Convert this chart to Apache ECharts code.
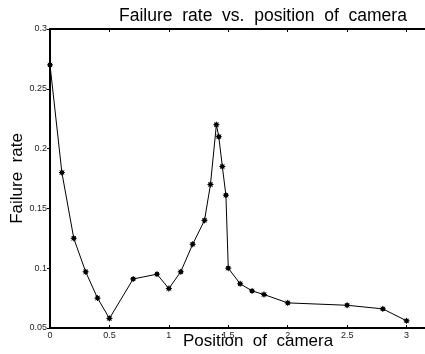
<!DOCTYPE html>
<html>
<head>
<meta charset="utf-8">
<script src="https://cdn.jsdelivr.net/npm/echarts@6/dist/echarts.min.js"></script>
<style>html,body{margin:0;padding:0;background:#fff;}#c{width:425px;height:354px;}</style>
</head>
<body>
<div id="c"></div>
<script>
const positions = [0, 0.1, 0.2, 0.3, 0.4, 0.5, 0.7, 0.9, 1.0, 1.1, 1.2, 1.3, 1.35, 1.4, 1.42, 1.45, 1.48, 1.5, 1.6, 1.7, 1.8, 2.0, 2.5, 2.8, 3.0];
const failureRates = [0.27, 0.18, 0.125, 0.097, 0.075, 0.058, 0.091, 0.095, 0.083, 0.097, 0.12, 0.14, 0.17, 0.22, 0.21, 0.185, 0.161, 0.1, 0.087, 0.081, 0.078, 0.071, 0.069, 0.066, 0.056];
const titleText = "Failure  rate  vs.  position  of  camera";
const xName = "Position  of  camera";
const yName = "Failure  rate";

const FONT = "Liberation Sans, Arial, Helvetica, sans-serif";
const chart = echarts.init(document.getElementById('c'), null, {renderer: 'canvas'});
const pts = positions.map((x, i) => [x, failureRates[i]]);
chart.setOption({
  animation: false,
  backgroundColor: '#fff',
  title: {
    text: titleText, left: 114, top: 2,
    textStyle: {fontFamily: FONT, fontSize: 17.5, fontWeight: 'normal', color: '#000'}
  },
  grid: {left: 50, top: 29, bottom: 26, right: -41, containLabel: false, outerBoundsMode: 'none'},
  xAxis: [{
    type: 'value', min: 0, max: 3.5, interval: 0.5, position: 'bottom',
    name: xName, nameLocation: 'middle', nameGap: 5, nameMoveOverlap: false,
    nameTextStyle: {fontFamily: FONT, fontSize: 17, color: '#000', verticalAlign: 'top'},
    axisLine: {show: true, lineStyle: {color: '#000', width: 2}},
    axisTick: {show: true, inside: true, length: 3, lineStyle: {color: '#000'}},
    axisLabel: {fontFamily: FONT, fontSize: 9, color: '#222', margin: 3,
      formatter: v => String(+v.toFixed(2))},
    splitLine: {show: false}
  }, {
    type: 'value', min: 0, max: 3.5, interval: 0.5, position: 'top',
    axisLine: {show: true, lineStyle: {color: '#000', width: 2}},
    axisTick: {show: true, inside: true, length: 3, lineStyle: {color: '#000'}},
    axisLabel: {show: false},
    splitLine: {show: false}
  }],
  yAxis: {
    type: 'value', min: 0.05, max: 0.3, interval: 0.05,
    name: yName, nameLocation: 'middle', nameGap: 24, nameRotate: 90, nameMoveOverlap: false,
    nameTextStyle: {fontFamily: FONT, fontSize: 17, color: '#000'},
    axisLine: {show: true, lineStyle: {color: '#000', width: 2}},
    axisTick: {show: true, inside: false, length: 3, lineStyle: {color: '#000'}},
    axisLabel: {fontFamily: FONT, fontSize: 9, color: '#222', margin: 3,
      formatter: v => String(+v.toFixed(2))},
    splitLine: {show: false}
  },
  series: [{
    type: 'line', data: pts, xAxisIndex: 0,
    symbol: 'path://M0,-5L0,5M-5,0L5,0M-3.5,-3.5L3.5,3.5M-3.5,3.5L3.5,-3.5M-2.5,-2.5L2.5,-2.5L2.5,2.5L-2.5,2.5Z',
    symbolSize: 6,
    itemStyle: {color: '#000', borderColor: '#000', borderWidth: 1},
    lineStyle: {color: '#000', width: 1}
  }]
});
</script>
</body>
</html>
